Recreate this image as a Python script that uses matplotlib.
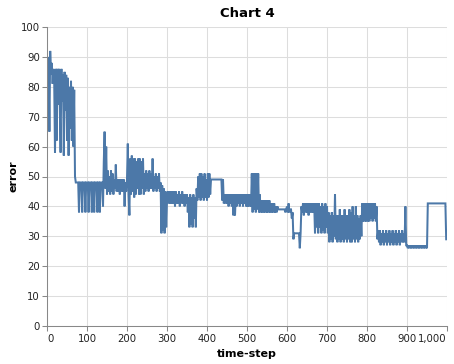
import matplotlib
matplotlib.use("Agg")
import matplotlib.pyplot as plt
import numpy as np
from matplotlib.ticker import FuncFormatter

# error, one value every 2 time-steps (blocks of 50 steps)
err_000 = [86, 90, 86, 65, 92, 84, 88, 81, 86, 82, 58, 86, 62, 86, 74, 86, 73, 58, 86, 75, 84, 57, 85, 72, 84]
err_050 = [62, 83, 57, 80, 66, 82, 62, 80, 60, 79, 50, 48, 48, 48, 48, 38, 48, 48, 48, 38, 48, 48, 48, 38, 48]
err_100 = [48, 48, 38, 48, 48, 48, 38, 48, 48, 38, 48, 48, 48, 38, 48, 48, 38, 48, 48, 48, 40, 55, 65, 46, 60]
err_150 = [44, 52, 45, 50, 44, 52, 45, 51, 44, 49, 46, 54, 45, 49, 45, 49, 44, 49, 45, 49, 45, 49, 40, 48, 45]
err_200 = [49, 61, 44, 37, 56, 44, 57, 45, 56, 43, 56, 44, 55, 46, 56, 44, 56, 44, 55, 46, 56, 44, 51, 45, 52]
err_250 = [46, 51, 45, 52, 46, 51, 46, 56, 45, 50, 46, 51, 45, 50, 46, 51, 45, 48, 31, 47, 32, 46, 31, 45, 33]
err_300 = [42, 45, 41, 45, 41, 45, 41, 45, 41, 45, 40, 45, 41, 44, 41, 45, 40, 44, 41, 45, 41, 44, 40, 44, 41]
err_350 = [44, 38, 43, 33, 44, 34, 43, 33, 44, 36, 43, 33, 46, 42, 50, 43, 51, 42, 51, 43, 50, 42, 51, 43, 49]
err_400 = [42, 51, 43, 51, 44, 49, 49, 49, 49, 49, 49, 49, 49, 49, 49, 49, 49, 49, 49, 42, 49, 41, 44, 41, 44]
err_450 = [41, 44, 40, 44, 41, 44, 40, 44, 37, 44, 37, 44, 40, 44, 41, 44, 40, 44, 41, 44, 40, 44, 41, 44, 40]
err_500 = [44, 40, 44, 40, 44, 40, 51, 38, 51, 39, 51, 38, 51, 39, 51, 38, 44, 38, 42, 38, 42, 38, 42, 38, 42]
err_550 = [38, 42, 38, 42, 38, 41, 38, 41, 38, 41, 38, 40, 38, 40, 39, 39, 39, 39, 39, 39, 39, 39, 39, 38, 39]
err_600 = [40, 38, 41, 38, 39, 39, 36, 38, 29, 31, 31, 31, 31, 31, 31, 31, 26, 31, 40, 38, 41, 37, 41, 38, 41]
err_650 = [38, 41, 37, 41, 38, 41, 38, 41, 38, 41, 31, 41, 33, 41, 31, 41, 33, 40, 31, 41, 32, 40, 31, 41, 33]
err_700 = [40, 31, 38, 28, 37, 29, 38, 28, 37, 30, 44, 29, 37, 28, 37, 29, 39, 28, 37, 29, 37, 28, 39, 29, 37]
err_750 = [28, 37, 29, 39, 28, 38, 28, 40, 29, 37, 28, 40, 29, 37, 28, 36, 29, 37, 30, 41, 35, 41, 35, 41, 35]
err_800 = [41, 35, 41, 35, 41, 36, 41, 35, 41, 36, 41, 35, 40, 29, 32, 28, 32, 27, 31, 28, 32, 27, 31, 28, 32]
err_850 = [27, 31, 28, 32, 27, 31, 28, 32, 27, 31, 28, 32, 27, 31, 28, 32, 27, 31, 28, 32, 28, 31, 28, 40, 27]
err_900 = [27, 26, 27, 26, 27, 26, 27, 26, 27, 26, 27, 26, 27, 26, 27, 26, 27, 26, 27, 26, 27, 26, 27, 26, 27]
err_950 = [26, 41, 41, 41, 41, 41, 41, 41, 41, 41, 41, 41, 41, 41, 41, 41, 41, 41, 41, 41, 41, 41, 41, 41, 29]

error = np.array(err_000 + err_050 + err_100 + err_150 + err_200 + err_250 + err_300
                 + err_350 + err_400 + err_450 + err_500 + err_550 + err_600 + err_650
                 + err_700 + err_750 + err_800 + err_850 + err_900 + err_950)
time_step = np.arange(0, 2 * len(error), 2)

x_ticks = [0, 100, 200, 300, 400, 500, 600, 700, 800, 900, 1000]
y_ticks = [0, 10, 20, 30, 40, 50, 60, 70, 80, 90, 100]

fig = plt.figure(figsize=(4.54, 3.64), dpi=100)
ax = fig.add_axes([47 / 454, 38 / 364, 400 / 454, 299 / 364])

ax.plot(time_step, error, color="#4c78a8", linewidth=1.45, solid_joinstyle="miter")

ax.set_xlim(0, 1000)
ax.set_ylim(0, 100)
ax.set_xticks(x_ticks)
ax.set_yticks(y_ticks)
ax.xaxis.set_major_formatter(FuncFormatter(lambda v, p: f"{int(v):,}"))
ax.grid(True, color="#dddddd", linewidth=0.75)
ax.set_axisbelow(True)

for s in ["top", "right"]:
    ax.spines[s].set_visible(False)
for s in ["left", "bottom"]:
    ax.spines[s].set_color("#888888")
    ax.spines[s].set_linewidth(0.75)

ax.tick_params(axis="both", colors="#888888", length=3.6, width=0.75,
               labelsize=7.3, labelcolor="#222222")
ax.tick_params(axis="x", pad=2)
ax.tick_params(axis="y", pad=1.5)

# flush first/last x labels like vega does
xl = ax.get_xticklabels()
xl[0].set_horizontalalignment("left")
xl[-1].set_horizontalalignment("right")

ax.set_xlabel("time-step", fontsize=8, fontweight="bold", labelpad=4)
ax.set_ylabel("error", fontsize=8, fontweight="bold", labelpad=2)
ax.set_title("Chart 4", fontsize=9.5, fontweight="bold", pad=7)

fig.savefig("out.png", dpi=100)
